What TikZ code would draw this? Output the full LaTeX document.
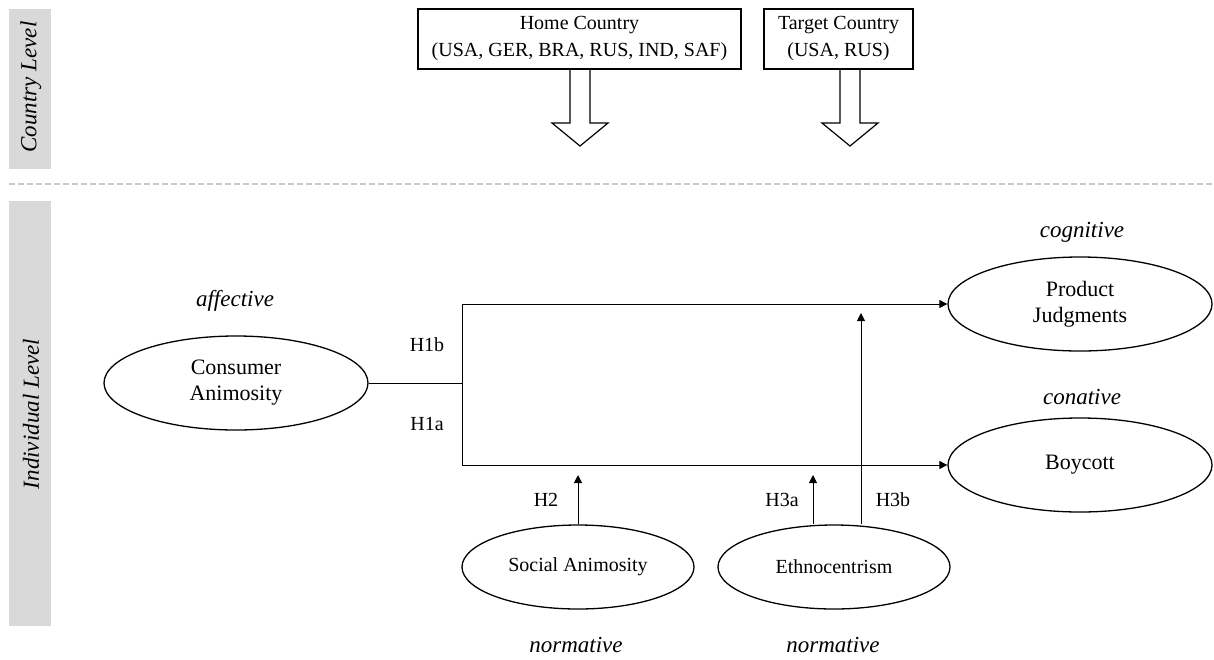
\documentclass[tikz,border=0pt]{standalone}
\usepackage{fontspec}
\setmainfont{Liberation Serif}
\usetikzlibrary{shapes.geometric, arrows.meta}
\definecolor{bandgray}{RGB}{217, 217, 217}
\definecolor{dashgray}{RGB}{200, 200, 200}

\begin{document}
\begin{tikzpicture}[x=1pt, y=-1pt, font=\fontsize{20}{27}\selectfont,
    construct/.style={ellipse, draw, line width=1.3pt, align=center, inner sep=0pt},
    bigconstruct/.style={construct, minimum width=264pt, minimum height=94pt,
                         font=\fontsize{22}{26}\selectfont},
    smallconstruct/.style={construct, minimum width=232pt, minimum height=84pt},
    countrybox/.style={draw, line width=1.2pt, align=center, minimum height=60pt, inner sep=0pt},
    tag/.style={font=\fontsize{23}{27}\selectfont\itshape},
    link/.style={line width=0.9pt},
    effect/.style={link, -{Triangle[length=8pt, width=8pt]}}]
  \useasboundingbox (0, 0) rectangle (1214, 659);

  % level bands
  \fill[bandgray] (9, 9) rectangle (51, 169);
  \fill[bandgray] (9, 201) rectangle (51, 626);
  \node[tag, rotate=90] (countrylvl) at (31, 87) {Country Level};
  \node[tag, rotate=90] (indivlvl) at (31, 414) {Individual Level};
  \draw[dashgray, line width=1.2pt, dash pattern=on 6pt off 3pt] (9, 184) -- (1214, 184);

  \node[countrybox, minimum width=323pt] (home) at (579.5, 39) {Home Country\\(USA, GER, BRA, RUS, IND, SAF)};
  \node[countrybox, minimum width=149pt] (target) at (838.5, 39) {Target Country\\(USA, RUS)};
  \foreach \ax in {580, 850}
    \draw[line width=1.2pt] (\ax-10, 69) -- (\ax-10, 123) -- (\ax-28, 123) -- (\ax, 146)
                            -- (\ax+28, 123) -- (\ax+10, 123) -- (\ax+10, 69);

  \node[bigconstruct] (ca) at (236, 383) {Consumer\\Animosity};
  \node[bigconstruct] (pj) at (1080, 304) {Product\\Judgments};
  \node[bigconstruct] (bc) at (1080, 465) {Boycott};
  \node[smallconstruct] (sa) at (578, 567) {Social Animosity};
  \node[smallconstruct] (et) at (834, 567) {Ethnocentrism};

  \node[tag] (aff) at (235, 301) {affective};
  \node[tag] (cog) at (1082, 232) {cognitive};
  \node[tag] (con) at (1082, 397) {conative};
  \node[tag] (norm1) at (576, 645) {normative};
  \node[tag] (norm2) at (833, 645) {normative};

  \coordinate (split) at (462, 383);
  \coordinate (h2tip) at (578, 475);
  \coordinate (h3atip) at (813, 475);
  \coordinate (h3btip) at (861, 313);

  \draw[link] (ca.east) -- (split);
  \draw[link] (split |- pj.west) -- (split |- bc.west);
  \draw[effect] (split |- pj.west) -- (pj.west);
  \draw[effect] (split |- bc.west) -- (bc.west);
  \draw[effect] (sa.north) -- (h2tip);
  \draw[effect] (h3atip |- et.north) -- (h3atip);
  \draw[effect] (h3btip |- et.north) -- (h3btip);

  \node (h1b) at (427, 345) {H1b};
  \node (h1a) at (427, 424) {H1a};
  \node (h2) at (546, 500) {H2};
  \node (h3a) at (782, 500) {H3a};
  \node (h3b) at (893, 500) {H3b};
\end{tikzpicture}
\end{document}
